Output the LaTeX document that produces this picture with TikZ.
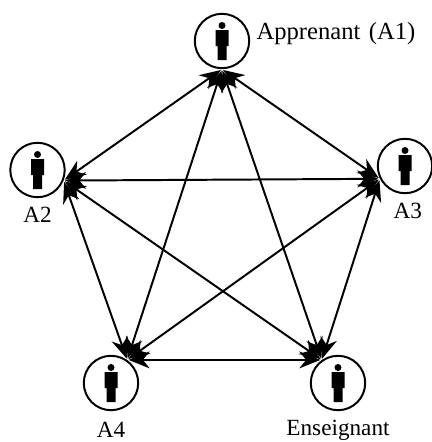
\documentclass[tikz,border=0pt]{standalone}
\usepackage{fontspec}
\setmainfont{Liberation Serif}
\usetikzlibrary{arrows.meta,positioning}
\tikzset{
	actor/.style={draw,circle,line width=1.4pt,minimum size=1.36cm,inner sep=0pt},
	lien/.style={{Stealth[length=15pt,width=12pt]}-{Stealth[length=15pt,width=12pt]},line width=1.4pt,shorten <=1pt,shorten >=1pt},
	person/.pic={
		\fill (0,-15.5) circle (3.5);
		\fill (-6.5,-11) -- (6.5,-11) -- (6.5,5) -- (4.5,5) -- (4.5,19) -- (-4.5,19) -- (-4.5,5) -- (-6.5,5) -- cycle;
	}
}
\begin{document}
\begin{tikzpicture}[x=0.025cm,y=-0.025cm,font=\fontsize{16.5}{18}\selectfont]
	\useasboundingbox (0,0) rectangle (432,442);
	\foreach \name/\x/\y in {A1/222/41,A2/37.5/170,A3/405/166,A4/111/383,E/338/383}
	{
		\node[actor](\name) at (\x,\y) {};
		\pic at (\name) {person};
	}
	\node[right=1pt of A1,yshift=5pt,font=\fontsize{17.5}{18}\selectfont](L1){Apprenant\hspace{6pt}(A1)};
	\node[below=3pt of A2](L2){A2};
	\node[below=3pt of A3,xshift=2pt](L3){A3};
	\node[below=4pt of A4](L4){A4};
	\node[below=3pt of E](L5){Enseignant};
	% toutes les paires
	\foreach \a/\b/\u/\v in {A1/A2/270/-22,A1/A3/270/207,A1/A4/270/55,A1/E/270/125,A2/A3/-22/207,A2/A4/-22/55,A2/E/-22/125,A3/A4/207/55,A3/E/207/125,A4/E/55/125}
		\draw[lien] (\a.\u) -- (\b.\v);
\end{tikzpicture}
\end{document}
